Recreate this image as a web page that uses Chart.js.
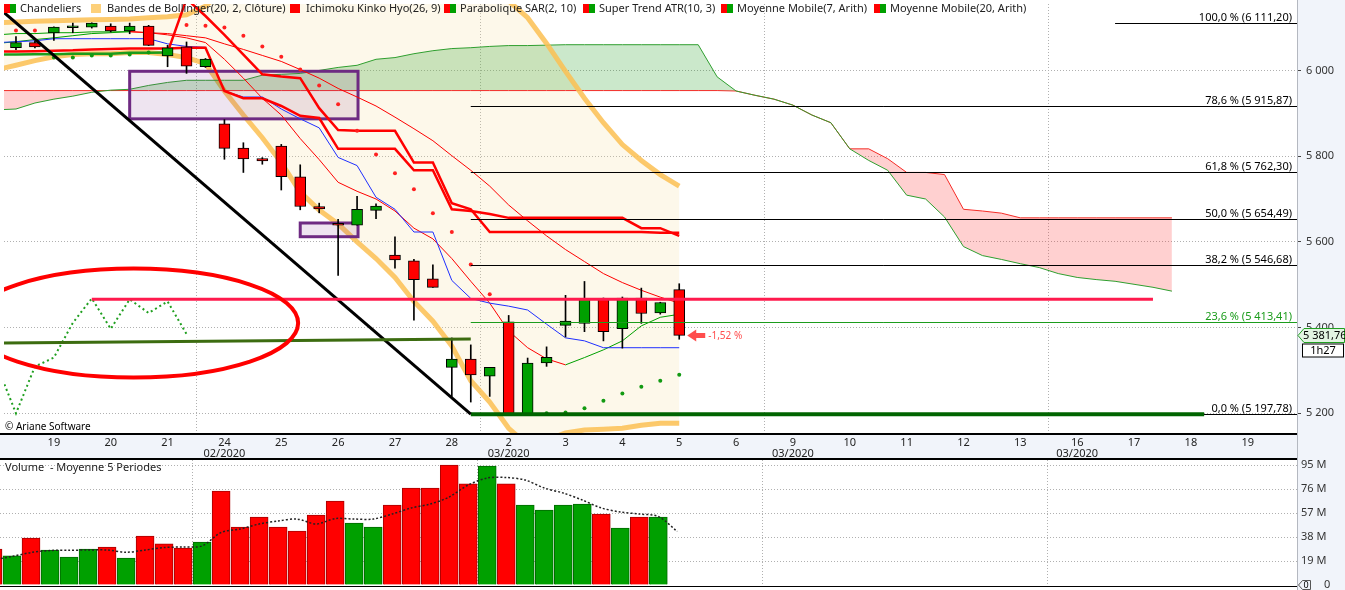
<!DOCTYPE html>
<html>
<head>
<meta charset="utf-8">
<script src="https://cdn.jsdelivr.net/npm/chart.js@4.4.1/dist/chart.umd.min.js"></script>
<style>
  html, body { margin: 0; padding: 0; background: #fff; }
  #wrap { position: relative; width: 1345px; height: 590px; overflow: hidden; }
  #priceChart { position: absolute; left: 0; top: 0; }
  #volChart { position: absolute; left: 0; top: 460px; }
</style>
</head>
<body>
<div id="wrap">
  <canvas id="priceChart" width="1345" height="460"></canvas>
  <canvas id="volChart" width="1345" height="130"></canvas>
</div>
<script>
// one slot = one candle (3 per trading day), slot 0 = first full candle on screen
const xMin = -0.632, xMax = 67.6;

const dayLabels   = ['19','20','21','24','25','26','27','28','2','3','4','5','6','9','10','11','12','13','16','17','18','19'];
const monthLabels = ['','','','02/2020','','','','','03/2020','','','','','03/2020','','','','','03/2020','','',''];
const priceTicks  = [5200, 5400, 5600, 5800, 6000];
const volTicks    = [0, 19, 38, 57, 76, 95];

// candles, slots 0..35
const candleOpen  = [6053.3, 6064.8, 6087.3, 6099.5, 6101.1, 6103.4, 6091.9, 6103.4, 6034.1, 6054.9, 6008.6, 5875.2, 5819.1, 5794.3, 5823.7, 5752.0, 5682.6, 5642.4, 5638.7, 5673.4, 5569.4, 5555.5, 5513.8, 5307.1, 5326.6, 5286.4, 5413.5, 5197.8, 5317.3, 5405.2, 5409.8, 5467.6, 5397.3, 5469.0, 5434.3, 5488.4];
const candleHigh  = [6078.7, 6067.8, 6101.8, 6110.4, 6111.1, 6108.8, 6110.4, 6105.3, 6058.6, 6066.4, 6027.8, 5885.2, 5831.3, 5796.6, 5827.4, 5779.8, 5690.3, 5652.6, 5706.5, 5688.7, 5611.7, 5559.2, 5546.2, 5375.8, 5359.6, 5307.1, 5428.3, 5328.9, 5355.0, 5475.2, 5507.6, 5469.0, 5471.3, 5492.1, 5459.1, 5502.3];
const candleLow   = [6048.6, 6052.6, 6070.1, 6088.0, 6098.8, 6089.6, 6085.6, 6057.9, 6008.6, 5993.2, 6007.0, 5792.7, 5761.9, 5781.1, 5721.0, 5674.8, 5667.8, 5521.5, 5638.7, 5654.0, 5538.4, 5417.4, 5493.7, 5239.4, 5226.2, 5239.4, 5197.8, 5197.8, 5309.5, 5378.1, 5390.4, 5368.9, 5352.0, 5409.8, 5431.3, 5372.8];
const candleClose = [6064.8, 6054.9, 6101.1, 6099.5, 6110.4, 6091.9, 6103.4, 6058.6, 6052.6, 6010.0, 6026.2, 5818.1, 5793.6, 5789.0, 5752.0, 5682.6, 5677.1, 5638.7, 5675.7, 5683.3, 5557.8, 5511.5, 5493.7, 5326.6, 5289.6, 5307.1, 5197.8, 5317.3, 5330.3, 5415.1, 5467.6, 5390.4, 5469.0, 5432.9, 5458.4, 5381.76];

// indicators, slots -1..35
const bbUpper = [6111, 6113, 6115, 6116, 6117, 6118, 6119, 6120, 6123, 6125, 6130, 6150, 6190, 6213, 6224, 6236, 6236, 6236, 6236, 6236, 6236, 6236, 6236, 6236, 6236, 6224, 6197, 6162, 6123, 6063, 5998, 5935, 5878, 5827, 5790, 5757, 5730];
const bbLower = [6002, 6012, 6023, 6032, 6037, 6039, 6039, 6042, 6042, 6037, 6030, 6016, 5952, 5896, 5843, 5785, 5716, 5674, 5642, 5600, 5561, 5517, 5461, 5415, 5357, 5276, 5226, 5165, 5126, 5138, 5154, 5161, 5163, 5165, 5172, 5177, 5177];
const tenkan  = [6065, 6067, 6069, 6074, 6074, 6074, 6074, 6074, 6074, 6062, 6056, 6054, 5952, 5938, 5938, 5910, 5887, 5866, 5797, 5778, 5704, 5676, 5623, 5623, 5510, 5468, 5457, 5450, 5441, 5408, 5376, 5369, 5353, 5353, 5353, 5353, 5353];
const kijun   = [6044, 6044, 6045, 6046, 6047, 6049, 6050, 6051, 6051, 6051, 6053, 6053, 5952, 5935, 5935, 5917, 5894, 5889, 5817, 5817, 5817, 5817, 5767, 5767, 5676, 5672, 5665, 5656, 5656, 5656, 5656, 5656, 5656, 5656, 5632, 5632, 5614];
const superTrend = [6037, 6037, 6038, 6038, 6039, 6039, 6039, 6041, 6041, 6042, 6167, 6127, 6083, 6037, 5991, 5986, 5982, 5912, 5861, 5859, 5859, 5859, 5785, 5785, 5690, 5676, 5623, 5623, 5623, 5623, 5623, 5623, 5623, 5623, 5623, 5621, 5621];
const superTrendUp = [1, 1, 1, 1, 1, 1, 1, 1, 1, 1, 0, 0, 0, 0, 0, 0, 0, 0, 0, 0, 0, 0, 0, 0, 0, 0, 0, 0, 0, 0, 0, 0, 0, 0, 0, 0, 0];
const mm7  = [6063, 6067, 6072, 6076, 6081, 6086, 6088, 6091, 6088, 6083, 6076, 6065, 6026, 5982, 5935, 5896, 5841, 5792, 5739, 5718, 5700, 5672, 5632, 5607, 5561, 5508, 5457, 5392, 5353, 5327, 5313, 5330, 5348, 5369, 5404, 5424, 5431];
const mm20 = [6083, 6086, 6086, 6088, 6088, 6090, 6090, 6090, 6088, 6086, 6081, 6076, 6062, 6049, 6035, 6021, 6002, 5982, 5958, 5938, 5917, 5891, 5864, 5836, 5801, 5767, 5730, 5686, 5649, 5614, 5582, 5554, 5526, 5505, 5487, 5471, 5457];

// parabolic SAR, slots 0..35
const sar   = [6093, 6093, 6030, 6030, 6035, 6035, 6037, 6042, null, 6106, 6104, 6100, 6081, 6056, 6032, 6002, 5965, 5921, 5859, 5804, 5760, 5723, 5667, 5623, 5547, 5478, 5228, 5200, 5200, 5202, 5212, 5229, 5246, 5262, 5276, 5290];
const sarUp = [0, 0, 1, 1, 1, 1, 1, 1, 1, 0, 0, 0, 0, 0, 0, 0, 0, 0, 0, 0, 0, 0, 0, 0, 0, 0, 1, 1, 1, 1, 1, 1, 1, 1, 1, 1];

// Ichimoku cloud, slots -1..61
const senkouA = [5908, 5910, 5924, 5933, 5940, 5949, 5954, 5956, 5965, 5972, 5977, 5977, 5977, 5977, 5989, 5991, 5993, 6000, 6007, 6012, 6026, 6030, 6039, 6046, 6051, 6053, 6056, 6058, 6058, 6059, 6060, 6060, 6060, 6060, 6060, 6060, 6060, 6060, 5985, 5952, 5942, 5933, 5919, 5896, 5878, 5817, 5790, 5767, 5709, 5700, 5658, 5589, 5568, 5559, 5549, 5540, 5526, 5517, 5512, 5508, 5501, 5494, 5485];
const senkouB = [5953, 5953, 5953, 5953, 5953, 5953, 5953, 5953, 5953, 5953, 5953, 5953, 5953, 5953, 5953, 5953, 5953, 5953, 5953, 5953, 5953, 5953, 5953, 5953, 5953, 5953, 5953, 5953, 5953, 5953, 5953, 5953, 5953, 5953, 5953, 5953, 5953, 5953, 5953, 5952, 5942, 5933, 5919, 5896, 5878, 5817, 5817, 5794, 5762, 5762, 5757, 5676, 5672, 5667, 5656, 5656, 5656, 5656, 5656, 5656, 5656, 5656, 5656];

// lagging span, slots -1..9
const chikou = [5311, 5200, 5309, 5330, 5411, 5468, 5397, 5466, 5434, 5461, 5385];

// volume (millions), slots -1..35
const volume = [28.5, 23.0, 37.2, 27.7, 22.2, 28.5, 30.1, 21.4, 38.8, 32.5, 29.3, 34.0, 74.4, 45.9, 53.8, 45.9, 42.7, 55.4, 66.5, 49.1, 45.9, 63.3, 76.8, 76.8, 95.0, 80.0, 94.2, 80.0, 63.3, 59.4, 63.3, 64.1, 56.2, 45.1, 53.8, 53.8, null];
const volumeUp = [0, 1, 0, 1, 1, 1, 0, 1, 0, 0, 0, 1, 0, 0, 0, 0, 0, 0, 0, 1, 1, 0, 0, 0, 0, 0, 1, 0, 1, 1, 1, 1, 0, 1, 0, 1, 0];
const volumeMA = [19.8, 22.6, 25.7, 27.3, 27.5, 27.7, 27.7, 25.9, 27.7, 29.7, 30.1, 30.9, 41.6, 44.3, 48.3, 50.7, 52.2, 48.3, 52.6, 52.2, 52.2, 56.2, 61.0, 64.1, 69.7, 79.2, 84.7, 85.1, 83.1, 76.8, 72.8, 67.3, 61.0, 57.8, 56.2, 54.2, 42.4];

// drawn objects (in slot / price units)
const fibLevels = [[100, 6111.20], [78.6, 5915.87], [61.8, 5762.30], [50, 5654.49], [38.2, 5546.68], [23.6, 5413.41], [0, 5197.78]];
const fibStart = 24, fibTopStart = 58, fibZeroEnd = 62.7;
const trendLine = [[-1, 6149], [24, 5197.8]];
const supportLine = [[-1, 5364], [24, 5373.5]];
const resistLine = [[4, 5466], [60, 5466]];
const ellipse = { x: 6.21, y: 5410.5, rx: 8.68, ry: 127.2 };
const boxes = [{ x1: 6, x2: 18.05, y1: 5998, y2: 5887 }, { x1: 15, x2: 18.05, y1: 5644, y2: 5612 }];
const lastChange = '-1,52 %';
const countdown = '1h27';

const FONT = '"Noto Sans", "DejaVu Sans", sans-serif';
const GREEN = '#00a000', RED = '#ff0000';
const CHART_RIGHT = 1297;

function series(values, start) {
  return values.map((v, i) => ({ x: start + i, y: v }));
}
function fmtNum(v, dec) {
  const parts = v.toFixed(dec).split('.');
  parts[0] = parts[0].replace(/\B(?=(\d{3})+(?!\d))/g, ' ');
  return parts.join(',');
}
const tickSlots = dayLabels.map((_, i) => 2 + 3 * i);
const weekSlots = tickSlots.filter((_, i) => monthLabels[i] !== '');

const datasets = [];
const IDX = {};
function add(name, ds) {
  IDX[name] = datasets.length;
  datasets.push(Object.assign({ type: 'line', pointRadius: 0, tension: 0, fill: false }, ds));
}

add('bbUpper', { data: series(bbUpper, -1), borderColor: 'rgba(251,192,82,0.85)', borderWidth: 5, order: 80 });
add('bbLower', { data: series(bbLower, -1), borderColor: 'rgba(251,192,82,0.85)', borderWidth: 5,
  fill: { target: 0 }, backgroundColor: 'rgba(245,222,160,0.22)', order: 100 });
add('senkouB', { data: series(senkouB, -1), borderColor: '#ff2a2a', borderWidth: 1, order: 95 });
add('senkouA', { data: series(senkouA, -1), borderColor: '#2f9f2f', borderWidth: 1, order: 94,
  fill: { target: 2, above: 'rgba(20,150,20,0.22)', below: 'rgba(255,40,40,0.22)' } });
add('mm20', { data: series(mm20, -1), borderWidth: 1, order: 70,
  segment: { borderColor: c => c.p1.parsed.y >= c.p0.parsed.y ? GREEN : RED } });
add('mm7', { data: series(mm7, -1), borderWidth: 1, order: 69,
  segment: { borderColor: c => c.p1.parsed.y >= c.p0.parsed.y ? GREEN : RED } });
add('tenkan', { data: series(tenkan, -1), borderColor: '#1f2fff', borderWidth: 1, order: 68 });
add('kijun', { data: series(kijun, -1), borderColor: RED, borderWidth: 2.5, order: 67 });
add('superTrend', { data: series(superTrend, -1), borderWidth: 2.5, order: 66, borderColor: RED,
  segment: { borderColor: c => superTrendUp[c.p1DataIndex] ? '#1c9c1c' : RED } });
add('chikou', { data: series(chikou, -1), borderColor: '#1f9f1f', borderWidth: 2, borderDash: [2, 3], order: 65 });
add('sar', { data: series(sar, 0), showLine: false, pointRadius: 2, pointBorderWidth: 0,
  pointBackgroundColor: sarUp.map(u => u ? '#129a12' : '#ff2020'), order: 60 });
add('wicks', { type: 'bar', data: candleOpen.map((_, i) => ({ x: i, y: [candleLow[i], candleHigh[i]] })),
  backgroundColor: '#000', barThickness: 1, grouped: false, order: 50 });
add('bodies', { type: 'bar', data: candleOpen.map((o, i) => ({ x: i, y: [o, candleClose[i]] })),
  backgroundColor: candleOpen.map((o, i) => candleClose[i] >= o ? GREEN : RED),
  borderColor: '#000', borderWidth: 1, borderSkipped: false, barThickness: 11, minBarLength: 2,
  grouped: false, order: 49 });

function clipArea(ctx, a) {
  ctx.beginPath();
  ctx.rect(a.left, a.top, a.right - a.left, a.bottom - a.top);
  ctx.clip();
}
function line(ctx, x, y, pts, color, width) {
  ctx.strokeStyle = color; ctx.lineWidth = width;
  ctx.beginPath();
  ctx.moveTo(x.getPixelForValue(pts[0][0]), y.getPixelForValue(pts[0][1]));
  ctx.lineTo(x.getPixelForValue(pts[1][0]), y.getPixelForValue(pts[1][1]));
  ctx.stroke();
}

// legend entries: text, icon colours, icon x position
const legendItems = [
  ['Chandeliers', [RED, GREEN], 4],
  ['Bandes de Bollinger(20, 2, Clôture)', ['#fdd07a'], 91],
  ['Ichimoku Kinko Hyo(26, 9)', [RED], 290],
  ['Parabolique SAR(2, 10)', [RED, GREEN], 444],
  ['Super Trend ATR(10, 3)', [RED, GREEN], 583],
  ['Moyenne Mobile(7, Arith)', [RED, GREEN], 721],
  ['Moyenne Mobile(20, Arith)', [RED, GREEN], 874]
];

const priceDecor = {
  id: 'priceDecor',
  beforeDraw(chart) {
    const ctx = chart.ctx;
    ctx.save();
    ctx.fillStyle = '#fff';
    ctx.fillRect(0, 0, chart.width, chart.height);
    ctx.fillStyle = '#f1f4fa';
    ctx.fillRect(CHART_RIGHT, 0, chart.width - CHART_RIGHT, chart.height);
    ctx.fillRect(0, chart.chartArea.bottom, CHART_RIGHT, chart.height - chart.chartArea.bottom);
    ctx.restore();
  },
  beforeDatasetDraw(chart, args) {
    if (args.index !== IDX.bbUpper) return;
    const { ctx, scales: { x, y } } = chart;
    ctx.save();
    clipArea(ctx, chart.chartArea);
    boxes.forEach(b => {
      const x1 = x.getPixelForValue(b.x1), x2 = x.getPixelForValue(b.x2);
      const y1 = y.getPixelForValue(b.y1), y2 = y.getPixelForValue(b.y2);
      ctx.fillStyle = 'rgba(120,50,140,0.13)';
      ctx.fillRect(x1, y1, x2 - x1, y2 - y1);
      ctx.strokeStyle = '#6e2a82'; ctx.lineWidth = 3;
      ctx.strokeRect(x1, y1, x2 - x1, y2 - y1);
    });
    ctx.restore();
  },
  afterDatasetsDraw(chart) {
    const { ctx, chartArea: a, scales: { x, y } } = chart;
    ctx.save();
    clipArea(ctx, a);
    // retracement levels
    ctx.font = '11px ' + FONT;
    ctx.textAlign = 'right';
    ctx.textBaseline = 'alphabetic';
    fibLevels.forEach(([pct, val]) => {
      const py = Math.round(y.getPixelForValue(val)) + 0.5;
      const from = pct === 100 ? fibTopStart : fibStart;
      const color = pct === 23.6 ? '#1c9c1c' : '#000';
      ctx.strokeStyle = color; ctx.lineWidth = 1;
      ctx.beginPath();
      ctx.moveTo(x.getPixelForValue(from), py);
      ctx.lineTo(a.right, py);
      ctx.stroke();
      ctx.fillStyle = color;
      ctx.fillText(fmtNum(pct, 1) + ' % (' + fmtNum(val, 2) + ')', a.right - 5, py - 3);
    });
    line(ctx, x, y, [[fibStart, fibLevels[6][1]], [fibZeroEnd, fibLevels[6][1]]], '#006400', 4);
    // drawn lines
    line(ctx, x, y, trendLine, '#000', 3);
    line(ctx, x, y, supportLine, '#3c6c10', 3);
    line(ctx, x, y, resistLine, '#ff1a4d', 3);
    const cx = x.getPixelForValue(ellipse.x), cy = y.getPixelForValue(ellipse.y);
    const rx = x.getPixelForValue(ellipse.x + ellipse.rx) - cx;
    const ry = cy - y.getPixelForValue(ellipse.y + ellipse.ry);
    ctx.strokeStyle = RED; ctx.lineWidth = 4;
    ctx.beginPath();
    ctx.ellipse(cx, cy, rx, ry, 0, 0, Math.PI * 2);
    ctx.stroke();
    // last change arrow
    const last = candleClose.length - 1;
    const ax = x.getPixelForValue(last) + 8, ay = y.getPixelForValue(candleClose[last]);
    ctx.fillStyle = '#ff4d4d';
    ctx.beginPath();
    ctx.moveTo(ax, ay); ctx.lineTo(ax + 9, ay - 6); ctx.lineTo(ax + 9, ay - 2.5);
    ctx.lineTo(ax + 18, ay - 2.5); ctx.lineTo(ax + 18, ay + 2.5); ctx.lineTo(ax + 9, ay + 2.5);
    ctx.lineTo(ax + 9, ay + 6); ctx.closePath(); ctx.fill();
    ctx.font = '10px ' + FONT; ctx.textAlign = 'left'; ctx.textBaseline = 'middle';
    ctx.fillText(lastChange, ax + 21, ay + 1);
    ctx.restore();
  },
  afterDraw(chart) {
    const { ctx, chartArea: a, scales: { y } } = chart;
    ctx.save();
    ctx.fillStyle = '#000';
    ctx.fillRect(0, a.bottom, CHART_RIGHT, 2);
    ctx.fillRect(0, chart.height - 2, CHART_RIGHT, 2);
    ctx.fillStyle = '#b4b8c0';
    ctx.fillRect(CHART_RIGHT, 0, 1, chart.height);
    // legend
    ctx.font = '11px ' + FONT; ctx.textBaseline = 'middle'; ctx.textAlign = 'left';
    legendItems.forEach(([text, cols, lx]) => {
      if (cols.length === 2) {
        ctx.fillStyle = cols[0]; ctx.fillRect(lx, 4, 6, 9);
        ctx.fillStyle = cols[1]; ctx.fillRect(lx + 6, 4, 6, 9);
      } else {
        ctx.fillStyle = cols[0]; ctx.fillRect(lx, 4, 10, 9);
      }
      ctx.fillStyle = '#222';
      ctx.fillText(text, lx + 16, 9);
    });
    ctx.font = '10px ' + FONT; ctx.fillStyle = '#000';
    ctx.fillText('© Ariane Software', 5, a.bottom - 6);
    // last price tag and countdown
    const last = candleClose[candleClose.length - 1];
    const ty = Math.round(y.getPixelForValue(last)) + 0.5;
    ctx.beginPath();
    ctx.moveTo(CHART_RIGHT + 1, ty); ctx.lineTo(CHART_RIGHT + 7, ty - 7); ctx.lineTo(chart.width - 0.5, ty - 7);
    ctx.lineTo(chart.width - 0.5, ty + 7); ctx.lineTo(CHART_RIGHT + 7, ty + 7); ctx.closePath();
    ctx.fillStyle = '#e2f4e2'; ctx.fill();
    ctx.strokeStyle = '#22a022'; ctx.lineWidth = 1; ctx.stroke();
    ctx.fillStyle = '#000'; ctx.font = '11px ' + FONT;
    ctx.fillText(fmtNum(last, 2), CHART_RIGHT + 6, ty + 0.5);
    ctx.fillStyle = '#fff';
    ctx.fillRect(CHART_RIGHT + 5.5, ty + 8.5, 41, 13);
    ctx.strokeStyle = '#000';
    ctx.strokeRect(CHART_RIGHT + 5.5, ty + 8.5, 41, 13);
    ctx.fillStyle = '#000'; ctx.textAlign = 'center';
    ctx.fillText(countdown, CHART_RIGHT + 26, ty + 15.5);
    ctx.restore();
  }
};

new Chart(document.getElementById('priceChart'), {
  type: 'line',
  data: { datasets },
  options: {
    responsive: false,
    animation: false,
    layout: { padding: 0 },
    plugins: { legend: { display: false }, tooltip: { enabled: false } },
    scales: {
      x: {
        type: 'linear', min: xMin, max: xMax, offset: false,
        afterBuildTicks: s => { s.ticks = tickSlots.map(v => ({ value: v })); },
        afterFit: s => { s.height = 27; s.paddingLeft = 0; s.paddingRight = 0; },
        ticks: {
          autoSkip: false, maxRotation: 0, minRotation: 0, padding: 4, color: '#222',
          font: { family: FONT, size: 11, lineHeight: 1.0 },
          callback: v => {
            const i = tickSlots.indexOf(v);
            if (i < 0) return '';
            return monthLabels[i] ? [dayLabels[i], monthLabels[i]] : dayLabels[i];
          }
        },
        grid: { drawTicks: false, color: c => (c.tick && weekSlots.includes(c.tick.value)) ? '#b0b0b0' : 'rgba(0,0,0,0)' },
        border: { display: false, dash: [1, 2] }
      },
      y: {
        type: 'linear', position: 'right', min: 5154, max: 6155,
        afterBuildTicks: s => { s.ticks = priceTicks.map(v => ({ value: v })); },
        afterFit: s => { s.width = 48; s.paddingTop = 0; s.paddingBottom = 0; },
        ticks: { autoSkip: false, padding: 5, color: '#333', font: { family: FONT, size: 11 },
          callback: v => fmtNum(v, 0) },
        grid: { drawTicks: true, tickLength: 4, tickColor: '#444', color: '#b0b0b0' },
        border: { display: false, dash: [1, 2] }
      }
    }
  },
  plugins: [priceDecor]
});

const volDecor = {
  id: 'volDecor',
  beforeDraw(chart) {
    const ctx = chart.ctx;
    ctx.save();
    ctx.fillStyle = '#fff';
    ctx.fillRect(0, 0, chart.width, chart.height);
    ctx.fillStyle = '#f1f4fa';
    ctx.fillRect(CHART_RIGHT, 0, chart.width - CHART_RIGHT, chart.height);
    ctx.restore();
  },
  afterDraw(chart) {
    const { ctx, chartArea: a } = chart;
    ctx.save();
    ctx.fillStyle = '#000';
    ctx.fillRect(0, a.bottom + 1, CHART_RIGHT, 1);
    ctx.fillStyle = '#b4b8c0';
    ctx.fillRect(CHART_RIGHT, 0, 1, chart.height);
    ctx.font = '11px ' + FONT; ctx.fillStyle = '#222'; ctx.textBaseline = 'middle';
    ctx.fillText('Volume  - Moyenne 5 Periodes', 5, 8);
    // zero tag
    ctx.strokeStyle = '#555'; ctx.lineWidth = 1;
    ctx.beginPath();
    ctx.moveTo(CHART_RIGHT + 1.5, a.bottom); ctx.lineTo(CHART_RIGHT + 5.5, a.bottom - 4.5);
    ctx.lineTo(CHART_RIGHT + 13.5, a.bottom - 4.5); ctx.lineTo(CHART_RIGHT + 13.5, a.bottom + 4.5);
    ctx.lineTo(CHART_RIGHT + 5.5, a.bottom + 4.5); ctx.closePath(); ctx.stroke();
    ctx.font = '9px ' + FONT; ctx.fillStyle = '#000'; ctx.textAlign = 'center';
    ctx.fillText('0', CHART_RIGHT + 9, a.bottom);
    ctx.restore();
  }
};

new Chart(document.getElementById('volChart'), {
  type: 'bar',
  data: {
    datasets: [
      { type: 'line', data: series(volumeMA, -1), borderColor: '#222', borderWidth: 1.5, borderDash: [2, 2],
        pointRadius: 0, tension: 0.3, order: 1 },
      { type: 'bar', data: series(volume, -1),
        backgroundColor: volumeUp.map(u => u ? GREEN : RED),
        borderColor: volumeUp.map(u => u ? '#006a00' : '#a80000'),
        borderWidth: 1, barThickness: 18, grouped: false, order: 2 }
    ]
  },
  options: {
    responsive: false,
    animation: false,
    layout: { padding: 0 },
    plugins: { legend: { display: false }, tooltip: { enabled: false } },
    scales: {
      x: {
        type: 'linear', min: xMin, max: xMax, offset: false,
        afterBuildTicks: s => { s.ticks = tickSlots.map(v => ({ value: v })); },
        afterFit: s => { s.height = 5; s.paddingLeft = 0; s.paddingRight = 0; },
        ticks: { display: false },
        grid: { drawTicks: false, color: c => (c.tick && weekSlots.includes(c.tick.value)) ? '#b0b0b0' : 'rgba(0,0,0,0)' },
        border: { display: false, dash: [1, 2] }
      },
      y: {
        type: 'linear', position: 'right', min: 0, max: 98.96,
        afterBuildTicks: s => { s.ticks = volTicks.map(v => ({ value: v })); },
        afterFit: s => { s.width = 48; s.paddingTop = 0; s.paddingBottom = 0; },
        ticks: { autoSkip: false, padding: 4, color: '#333', font: { family: FONT, size: 11 },
          callback: v => v === 0 ? '        0' : v + ' M' },
        grid: { drawTicks: false, color: c => c.tick && c.tick.value === 0 ? 'rgba(0,0,0,0)' : '#b0b0b0' },
        border: { display: false, dash: [1, 2] }
      }
    }
  },
  plugins: [volDecor]
});
</script>
</body>
</html>
